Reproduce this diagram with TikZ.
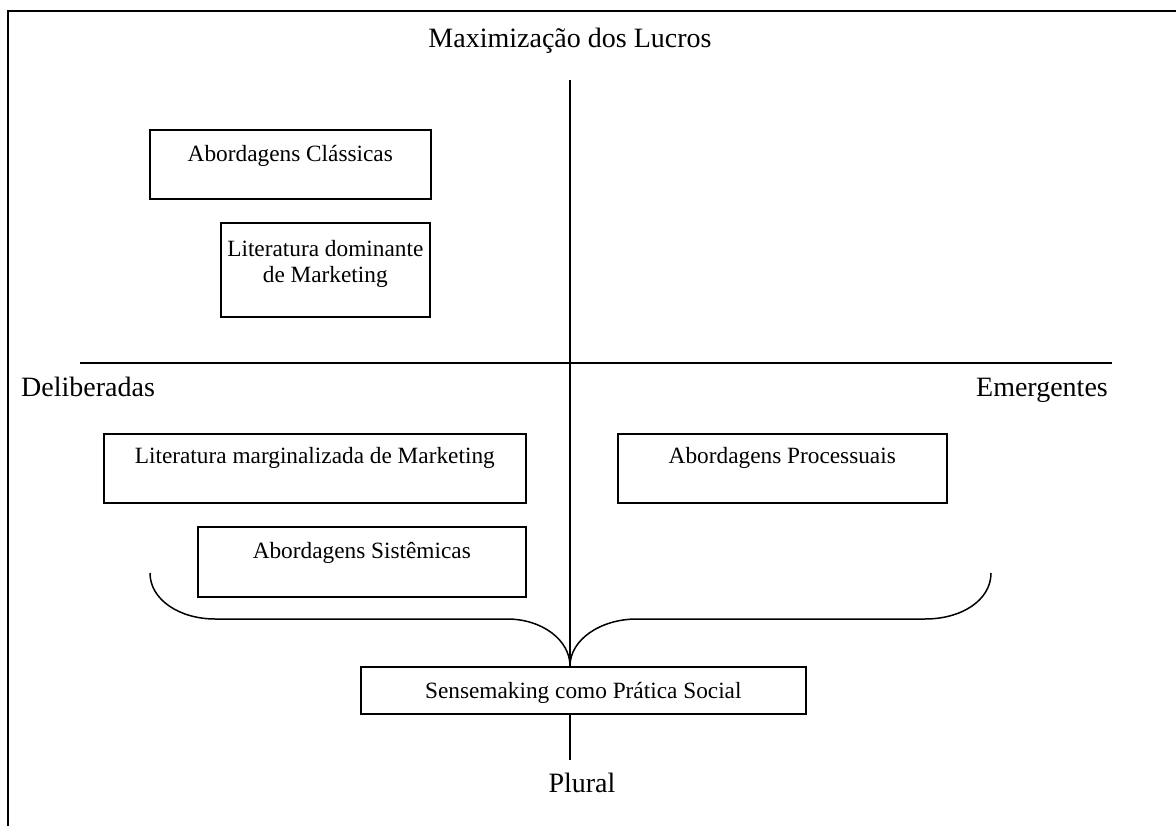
\documentclass[tikz,border=0pt]{standalone}
\usepackage{fontspec}
\setmainfont{Liberation Serif}
\usetikzlibrary{calc}
\begin{document}
\begin{tikzpicture}[x=1pt,y=-1pt,
  box/.style={draw, line width=1.6pt, rectangle, inner sep=0pt, anchor=north west},
  boxtext/.style={anchor=base, font=\fontsize{23.3}{26}\selectfont, inner sep=0pt, align=center},
  axislabel/.style={font=\fontsize{28}{31}\selectfont, inner sep=0pt},
  axis/.style={line width=1.5pt},
]
\useasboundingbox (0,0) rectangle (1176,826);

% outer frame (top and left edges)
\draw[line width=2.4pt] (8,826) -- (8,11) -- (1176,11);

% axis labels
\node[axislabel, anchor=base] (lucro) at (570,48) {Maximização dos Lucros};
\node[axislabel, anchor=base west] (delib) at (21,396) {Deliberadas};
\node[axislabel, anchor=base east] (emerg) at (1108,396) {Emergentes};
\node[axislabel, anchor=base] (plural) at (582,792) {Plural};

% boxes
\node[box, minimum width=281pt, minimum height=69pt] (cls) at (149,129) {};
\node[boxtext] (clsT) at ($(cls.north)+(0,33)$) {Abordagens Clássicas};

\node[box, minimum width=209pt, minimum height=94pt] (dom) at (220,222) {};
\node[boxtext] (domT) at ($(dom.north)+(0,61)$) {Literatura dominante\\de Marketing};

\node[box, minimum width=422pt, minimum height=69pt] (marg) at (103,433) {};
\node[boxtext] (margT) at ($(marg.north)+(0,30)$) {Literatura marginalizada de Marketing};

\node[box, minimum width=329pt, minimum height=69pt] (proc) at (617,433) {};
\node[boxtext] (procT) at ($(proc.north)+(0,30)$) {Abordagens Processuais};

\node[box, minimum width=328pt, minimum height=70pt] (sist) at (197,526) {};
\node[boxtext] (sistT) at ($(sist.north)+(0,32)$) {Abordagens Sistêmicas};

\node[box, minimum width=445pt, minimum height=47pt] (sense) at (360,666) {};
\node[boxtext] (senseT) at ($(sense.north)+(0,32)$) {Sensemaking como Prática Social};

% axes
\coordinate (vtop) at (570,80);
\coordinate (tip) at (570,666);
\coordinate (hleft) at (80,363);
\coordinate (hright) at (1112,363);
\coordinate (vbot) at (570,760);
\draw[axis] (vtop) -- (tip);
\draw[line width=2.2pt] (hleft) -- (hright);
\draw[axis] (sense.south -| tip) -- (vbot);

% brace gathering both sides into the bottom box
\coordinate (bl) at (150,573);
\coordinate (br) at (991,573);
\draw[axis] (bl) .. controls (150,600) and (180,619) .. (215,619) -- (507,619)
  .. controls (542,619) and (570,640) .. (tip);
\draw[axis] (tip) .. controls (570,640) and (600,619) .. (637,619) -- (925,619)
  .. controls (962,619) and (991,600) .. (br);
\end{tikzpicture}
\end{document}
